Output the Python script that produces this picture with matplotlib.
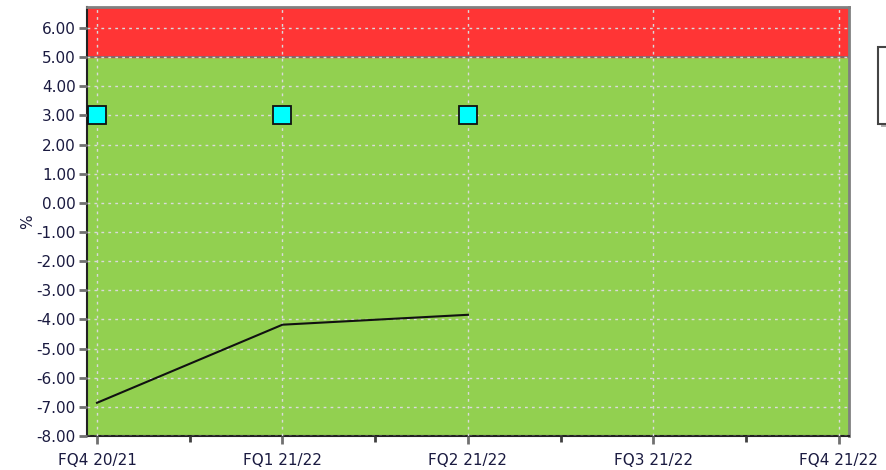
import matplotlib
matplotlib.use("Agg")
import matplotlib.pyplot as plt
from matplotlib.patches import Rectangle
from matplotlib.ticker import MultipleLocator, FixedLocator

# data
quarters = ["FQ4 20/21", "FQ1 21/22", "FQ2 21/22", "FQ3 21/22", "FQ4 21/22"]
actual = [-6.86, -4.18, -3.84]
target = [3.0, 3.0, 3.0]
threshold = 5.0
y_top = 6.72
y_bottom = -8.0

plt.rcParams["font.family"] = ["DejaVu Sans"]

fig = plt.figure(figsize=(8.86, 4.70), dpi=100)
ax = fig.add_axes([0.0982, 0.0723, 0.8598, 0.9127])

x = list(range(len(quarters)))
xmin, xmax = -0.054, 4.054

# background bands
ax.axhspan(y_bottom, threshold, color="#92d050", zorder=0)
ax.axhspan(threshold, y_top, color="#ff3535", zorder=0)
ax.axhline(threshold, color="#707070", lw=1.2, zorder=1)

ax.plot(x[:len(actual)], actual, color="#111111", lw=1.5, zorder=3)
ax.plot(x[:len(target)], target, ls="none", marker="s", ms=12.5,
        mfc="#00ffff", mec="#111111", mew=1.3, zorder=4, clip_on=False)

ax.set_xlim(xmin, xmax)
ax.set_ylim(y_bottom, y_top)
ax.set_xticks(x)
ax.set_xticklabels(quarters)
ax.xaxis.set_minor_locator(FixedLocator([0.5, 1.5, 2.5, 3.5]))
ax.yaxis.set_major_locator(MultipleLocator(1))
ax.yaxis.set_major_formatter(lambda v, p: f"{v:.2f}")
ax.set_ylabel("%", fontsize=11, color="#1a1a40", labelpad=1)

ax.grid(True, color="#dadada", ls=(0, (2, 3)), lw=1.0, zorder=2)
ax.set_axisbelow(False)

ax.tick_params(axis="both", direction="out", colors="#707070", width=2,
               labelcolor="#1a1a40", labelsize=11)
ax.tick_params(axis="y", length=6, pad=2)
ax.tick_params(axis="x", which="major", length=6, pad=6)
ax.tick_params(axis="x", which="minor", length=4, width=2, colors="#404040")

for s in ["left", "bottom"]:
    ax.spines[s].set_color("#222222")
    ax.spines[s].set_linewidth(1.5)
for s in ["top", "right"]:
    ax.spines[s].set_color("#808080")
    ax.spines[s].set_linewidth(2)

# cut-off legend box at right edge
fig.patches.append(Rectangle((881 / 886, 1 - 127 / 470), 0.02, 77 / 470,
                             transform=fig.transFigure, facecolor="#b0b0b0",
                             edgecolor="none", zorder=1))
fig.patches.append(Rectangle((878 / 886, 1 - 124 / 470), 0.02, 77 / 470,
                             transform=fig.transFigure, facecolor="white",
                             edgecolor="#444444", lw=1.5, zorder=2))

fig.savefig("out.png", dpi=100)
